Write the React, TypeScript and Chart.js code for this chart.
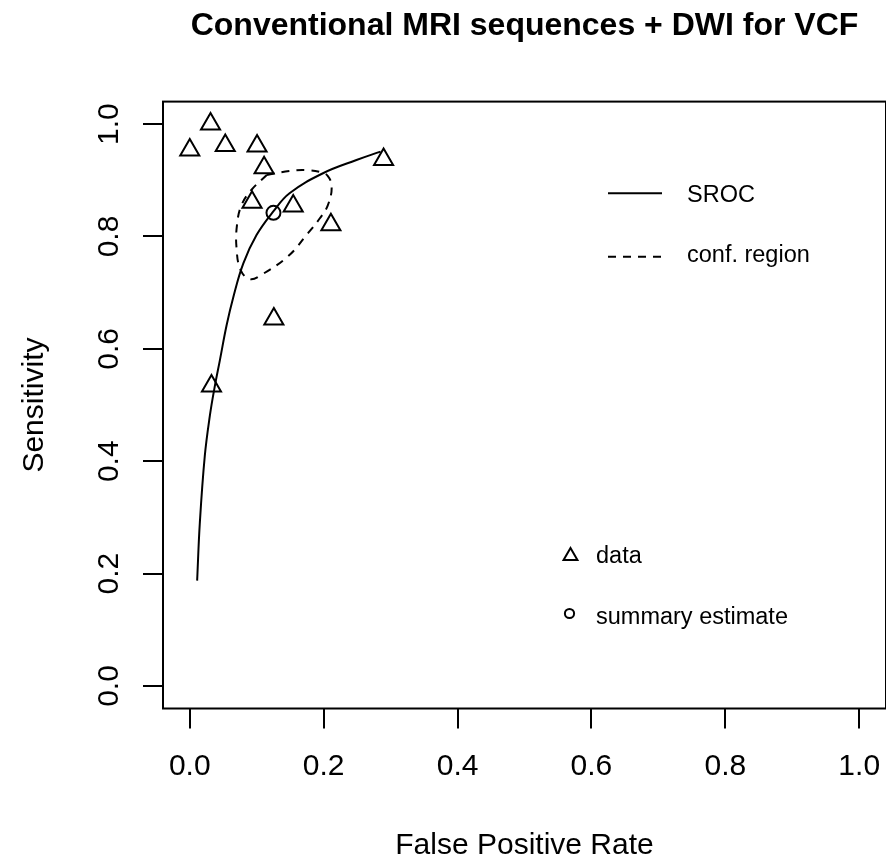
import React, { useEffect, useRef } from 'react';
import { Chart, registerables } from 'chart.js';

Chart.register(...registerables);

const FONT = '"Liberation Sans", Arial, Helvetica, sans-serif';

const TITLE = 'Conventional MRI sequences + DWI for VCF';
const X_TITLE = 'False Positive Rate';
const Y_TITLE = 'Sensitivity';

// study data (triangles)
const dataFPR = [0.0, 0.031, 0.053, 0.1005, 0.111, 0.093, 0.1545, 0.2108, 0.2895, 0.1256, 0.0324];
const dataSens = [0.954, 1.0, 0.962, 0.961, 0.9225, 0.861, 0.854, 0.8207, 0.937, 0.653, 0.5338];

// summary estimate (circle)
const summaryFPR = [0.125];
const summarySens = [0.842];

// SROC curve
const srocFPR = [0.011, 0.015, 0.0224, 0.030, 0.037, 0.045, 0.055, 0.065, 0.080, 0.0997, 0.1245, 0.149, 0.199, 0.249, 0.285];
const srocSens = [0.1875, 0.29, 0.409, 0.481, 0.531, 0.58, 0.642, 0.692, 0.752, 0.8024, 0.844, 0.877, 0.9125, 0.936, 0.951];

// confidence region outline
const confFPR = [0.115, 0.1495, 0.174, 0.194, 0.206, 0.212, 0.206, 0.194, 0.176, 0.147, 0.106, 0.09, 0.076, 0.0698, 0.0705, 0.077, 0.092, 0.115];
const confSens = [0.9095, 0.9166, 0.918, 0.915, 0.908, 0.888, 0.855, 0.832, 0.805, 0.765, 0.731, 0.724, 0.74, 0.78, 0.82, 0.855, 0.8827, 0.9095];

const xTickValues = [0, 0.2, 0.4, 0.6, 0.8, 1.0];
const xTickLabels = ['0.0', '0.2', '0.4', '0.6', '0.8', '1.0'];
const yTickValues = [0, 0.2, 0.4, 0.6, 0.8, 1.0];
const yTickLabels = ['0.0', '0.2', '0.4', '0.6', '0.8', '1.0'];

const legendTop = ['SROC', 'conf. region'];
const legendBottom = ['data', 'summary estimate'];

const overlay = {
  id: 'overlay',
  afterDraw(chart: any) {
    const { ctx, chartArea: a, scales } = chart;
    ctx.save();
    ctx.strokeStyle = '#000';
    ctx.fillStyle = '#000';
    ctx.lineWidth = 2;
    ctx.setLineDash([]);
    ctx.strokeRect(a.left, a.top, a.right - a.left, a.bottom - a.top);

    const cx = (a.left + a.right) / 2;
    const cy = (a.top + a.bottom) / 2;

    ctx.textAlign = 'center';
    ctx.textBaseline = 'alphabetic';
    ctx.font = `bold 32px ${FONT}`;
    ctx.fillText(TITLE, cx, 35);

    ctx.font = `30px ${FONT}`;
    ctx.fillText(X_TITLE, cx, 854);

    // y tick labels (rotated)
    const ys = scales.y;
    ys.ticks.forEach((t: any, i: number) => {
      const py = ys.getPixelForValue(t.value);
      ctx.save();
      ctx.translate(118.3, py);
      ctx.rotate(-Math.PI / 2);
      ctx.fillText(yTickLabels[i], 0, 0);
      ctx.restore();
    });

    ctx.save();
    ctx.translate(43, cy);
    ctx.rotate(-Math.PI / 2);
    ctx.fillText(Y_TITLE, 0, 0);
    ctx.restore();

    // legend (top)
    ctx.font = `23.5px ${FONT}`;
    ctx.textAlign = 'left';
    ctx.lineWidth = 2;
    ctx.beginPath();
    ctx.moveTo(608, 193.3);
    ctx.lineTo(662, 193.3);
    ctx.stroke();
    ctx.fillText(legendTop[0], 687, 201.7);
    ctx.setLineDash([8, 7]);
    ctx.beginPath();
    ctx.moveTo(608, 256.7);
    ctx.lineTo(662, 256.7);
    ctx.stroke();
    ctx.setLineDash([]);
    ctx.fillText(legendTop[1], 687, 261.7);

    // legend (bottom)
    const r = 8;
    const tx = 570.5, ty = 556;
    ctx.beginPath();
    ctx.moveTo(tx, ty - r);
    ctx.lineTo(tx + r * Math.sin(2 * Math.PI / 3), ty - r * Math.cos(2 * Math.PI / 3));
    ctx.lineTo(tx + r * Math.sin(4 * Math.PI / 3), ty - r * Math.cos(4 * Math.PI / 3));
    ctx.closePath();
    ctx.stroke();
    ctx.fillText(legendBottom[0], 596, 563.3);
    ctx.beginPath();
    ctx.arc(569.5, 613.5, 4.6, 0, Math.PI * 2);
    ctx.stroke();
    ctx.fillText(legendBottom[1], 596, 624);

    ctx.restore();
  },
};

export default function App() {
  const ref = useRef<HTMLCanvasElement | null>(null);

  useEffect(() => {
    if (!ref.current) return;
    const toPts = (xs: number[], ys: number[]) => xs.map((x, i) => ({ x, y: ys[i] }));
    const gridOpts = {
      display: true,
      drawOnChartArea: false,
      drawTicks: true,
      tickLength: 20,
      color: '#000',
      lineWidth: 2,
    };
    const chart = new Chart(ref.current, {
      type: 'scatter',
      data: {
        datasets: [
          {
            label: 'SROC',
            data: toPts(srocFPR, srocSens),
            showLine: true,
            borderColor: '#000',
            backgroundColor: '#000',
            borderWidth: 2,
            pointRadius: 0,
            tension: 0.4,
            fill: false,
          },
          {
            label: 'conf. region',
            data: toPts(confFPR, confSens),
            showLine: true,
            borderColor: '#000',
            backgroundColor: '#000',
            borderWidth: 2,
            borderDash: [8, 7],
            pointRadius: 0,
            tension: 0.4,
            fill: false,
          },
          {
            label: 'data',
            data: toPts(dataFPR, dataSens),
            showLine: false,
            pointStyle: 'triangle',
            pointRadius: 11,
            borderWidth: 2,
            borderColor: '#000',
            backgroundColor: 'rgba(0,0,0,0)',
          },
          {
            label: 'summary estimate',
            data: toPts(summaryFPR, summarySens),
            showLine: false,
            pointStyle: 'circle',
            pointRadius: 7,
            borderWidth: 2,
            borderColor: '#000',
            backgroundColor: 'rgba(0,0,0,0)',
          },
        ],
      },
      options: {
        animation: false,
        responsive: false,
        events: [],
        layout: { autoPadding: false, padding: { top: 101.6, left: 0, right: 0, bottom: 0 } },
        plugins: {
          legend: { display: false },
          tooltip: { enabled: false },
          title: { display: false },
        },
        scales: {
          x: {
            type: 'linear',
            position: 'bottom',
            min: -0.04,
            max: 1.04,
            afterBuildTicks: (s: any) => {
              s.ticks = xTickValues.map((v) => ({ value: v }));
            },
            afterFit: (s: any) => {
              s.height = 150.5;
              s.paddingLeft = 0;
              s.paddingRight = 0;
            },
            grid: gridOpts,
            border: { display: false },
            ticks: {
              color: '#000',
              font: { family: FONT, size: 30 },
              padding: 20,
              maxRotation: 0,
              minRotation: 0,
              callback: (_v: any, i: number) => xTickLabels[i],
            },
          },
          y: {
            type: 'linear',
            position: 'left',
            min: -0.04,
            max: 1.04,
            afterBuildTicks: (s: any) => {
              s.ticks = yTickValues.map((v) => ({ value: v }));
            },
            afterFit: (s: any) => {
              s.width = 163;
              s.paddingTop = 0;
              s.paddingBottom = 0;
            },
            grid: gridOpts,
            border: { display: false },
            ticks: { display: false },
          },
        },
      },
      plugins: [overlay],
    } as any);
    return () => chart.destroy();
  }, []);

  return (
    <div style={{ position: 'fixed', left: 0, top: 0, width: 886, height: 859, background: '#fff' }}>
      <canvas ref={ref} width={886} height={859} style={{ display: 'block' }} />
    </div>
  );
}
